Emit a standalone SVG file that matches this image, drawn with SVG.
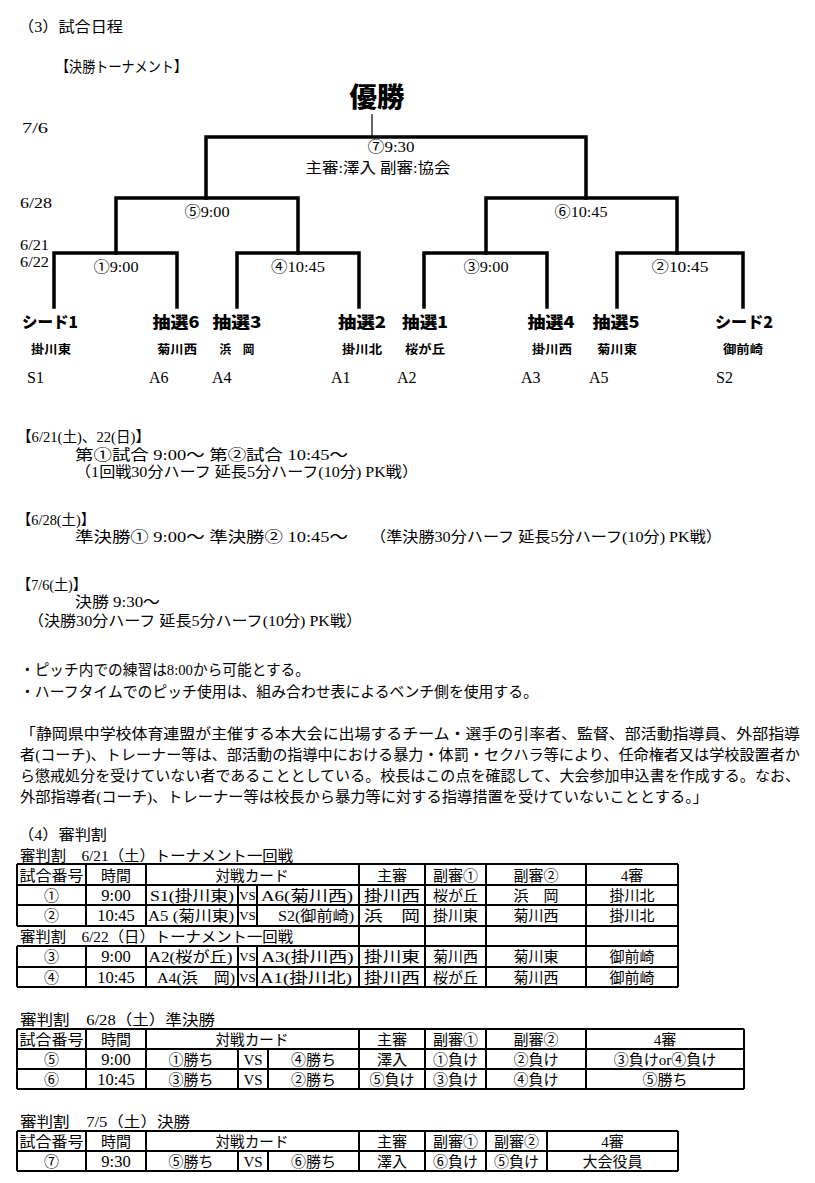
<svg xmlns="http://www.w3.org/2000/svg" width="815" height="1183" viewBox="0 0 815 1183">
<style>
text { fill:#000; }
.s { font-family:"Liberation Serif","Noto Sans CJK JP",serif; font-size:15px; }
.m { text-anchor:middle; }
.team { font-family:"Noto Sans CJK JP",sans-serif; font-weight:900; font-size:16px; text-anchor:middle; }
.school { font-family:"Noto Sans CJK JP",sans-serif; font-weight:700; font-size:12px; text-anchor:middle; }
.code { font-family:"Liberation Serif","Noto Sans CJK JP",serif; font-size:16px; }
.sch { font-family:"Liberation Serif","Noto Sans CJK JP",serif; font-size:15px; }
.t { font-family:"Liberation Serif","Noto Sans CJK JP",serif; font-size:15px; text-anchor:middle; }
.tm { font-family:"Liberation Serif",serif; font-size:16.5px; text-anchor:middle; }
.vs { font-family:"Liberation Serif",serif; font-size:13px; text-anchor:middle; }
.ln { fill:none; stroke:#000; stroke-width:3.5; stroke-linejoin:miter; stroke-linecap:square; }
.thin { fill:none; stroke:#000; stroke-width:1.2; }
.grid { fill:none; stroke:#000; stroke-width:2; }
</style>
<rect width="815" height="1183" fill="#fff"/>

<text class="s" x="18" y="32" textLength="105" lengthAdjust="spacingAndGlyphs">（3）試合日程</text>
<text class="s" x="56" y="72" textLength="131" lengthAdjust="spacingAndGlyphs">【決勝トーナメント】</text>

<g id="dates">
<text class="s" x="22" y="133" textLength="26" lengthAdjust="spacingAndGlyphs">7/6</text>
<text class="s" x="20" y="208" textLength="32" lengthAdjust="spacingAndGlyphs">6/28</text>
<text class="s" x="20" y="250" font-size="14" textLength="29" lengthAdjust="spacingAndGlyphs">6/21</text>
<text class="s" x="20" y="267" font-size="14" textLength="29" lengthAdjust="spacingAndGlyphs">6/22</text>
</g>

<g id="connectors">
<path class="thin" d="M372,114 V137"/>
<path class="ln" d="M206,198 V137 H586 V198"/>
<path class="ln" d="M116,253 V198 H298 V253"/>
<path class="ln" d="M486,253 V198 H677 V253"/>
<path class="ln" d="M54,307 V253 H177 V307"/>
<path class="ln" d="M237,307 V253 H359 V307"/>
<path class="ln" d="M424,307 V253 H547 V307"/>
<path class="ln" d="M617,307 V253 H743 V307"/>
</g>

<g id="champion">
<text x="377" y="107" text-anchor="middle" font-family="Noto Sans CJK JP, sans-serif" font-weight="900" font-size="27" textLength="55" lengthAdjust="spacingAndGlyphs">優勝</text>
</g>
<g id="match7">
<text class="s m" x="391" y="152" textLength="47" lengthAdjust="spacingAndGlyphs">⑦9:30</text>
<text class="s m" x="378" y="173" textLength="145" lengthAdjust="spacingAndGlyphs">主審:澤入  副審:協会</text>
</g>
<g id="match5"><text class="s m" x="207" y="217" textLength="45" lengthAdjust="spacingAndGlyphs">⑤9:00</text></g>
<g id="match6"><text class="s m" x="581" y="217" textLength="53" lengthAdjust="spacingAndGlyphs">⑥10:45</text></g>
<g id="match1"><text class="s m" x="116" y="272" textLength="45" lengthAdjust="spacingAndGlyphs">①9:00</text></g>
<g id="match4"><text class="s m" x="298" y="272" textLength="54" lengthAdjust="spacingAndGlyphs">④10:45</text></g>
<g id="match3"><text class="s m" x="486" y="272" textLength="45" lengthAdjust="spacingAndGlyphs">③9:00</text></g>
<g id="match2"><text class="s m" x="680" y="272" textLength="57" lengthAdjust="spacingAndGlyphs">②10:45</text></g>

<g id="team-s1">
<text class="team" x="50" y="328" textLength="56" lengthAdjust="spacingAndGlyphs">シード1</text>
<text class="school" x="51" y="354" textLength="40" lengthAdjust="spacingAndGlyphs">掛川東</text>
<text class="code" x="27" y="383">S1</text>
</g>
<g id="team-a6">
<text class="team" x="176" y="328" textLength="47" lengthAdjust="spacingAndGlyphs">抽選6</text>
<text class="school" x="177" y="354" textLength="40" lengthAdjust="spacingAndGlyphs">菊川西</text>
<text class="code" x="149" y="383">A6</text>
</g>
<g id="team-a4">
<text class="team" x="237" y="328" textLength="49" lengthAdjust="spacingAndGlyphs">抽選3</text>
<text class="school" x="237" y="354" textLength="35" lengthAdjust="spacingAndGlyphs">浜　岡</text>
<text class="code" x="212" y="383">A4</text>
</g>
<g id="team-a1">
<text class="team" x="362" y="328" textLength="48" lengthAdjust="spacingAndGlyphs">抽選2</text>
<text class="school" x="362" y="354" textLength="40" lengthAdjust="spacingAndGlyphs">掛川北</text>
<text class="code" x="331" y="383">A1</text>
</g>
<g id="team-a2">
<text class="team" x="425" y="328" textLength="46" lengthAdjust="spacingAndGlyphs">抽選1</text>
<text class="school" x="425" y="354" textLength="40" lengthAdjust="spacingAndGlyphs">桜が丘</text>
<text class="code" x="397" y="383">A2</text>
</g>
<g id="team-a3">
<text class="team" x="551" y="328" textLength="47" lengthAdjust="spacingAndGlyphs">抽選4</text>
<text class="school" x="552" y="354" textLength="40" lengthAdjust="spacingAndGlyphs">掛川西</text>
<text class="code" x="521" y="383">A3</text>
</g>
<g id="team-a5">
<text class="team" x="616" y="328" textLength="47" lengthAdjust="spacingAndGlyphs">抽選5</text>
<text class="school" x="617" y="354" textLength="40" lengthAdjust="spacingAndGlyphs">菊川東</text>
<text class="code" x="589" y="383">A5</text>
</g>
<g id="team-s2">
<text class="team" x="744" y="328" textLength="58" lengthAdjust="spacingAndGlyphs">シード2</text>
<text class="school" x="743" y="354" textLength="40" lengthAdjust="spacingAndGlyphs">御前崎</text>
<text class="code" x="716" y="383">S2</text>
</g>

<g id="schedule">
<text class="sch" x="17" y="442" textLength="133" lengthAdjust="spacingAndGlyphs">【6/21(土)、22(日)】</text>
<text class="sch" x="75" y="460" textLength="273" lengthAdjust="spacingAndGlyphs">第①試合  9:00～  第②試合  10:45～</text>
<text class="sch" x="75" y="477" textLength="343" lengthAdjust="spacingAndGlyphs">（1回戦30分ハーフ  延長5分ハーフ(10分)  PK戦）</text>
<text class="sch" x="17" y="525" textLength="78" lengthAdjust="spacingAndGlyphs">【6/28(土)】</text>
<text class="sch" x="75" y="542" textLength="273" lengthAdjust="spacingAndGlyphs">準決勝①  9:00～  準決勝②  10:45～</text>
<text class="sch" x="370" y="542" textLength="352" lengthAdjust="spacingAndGlyphs">（準決勝30分ハーフ  延長5分ハーフ(10分)  PK戦）</text>
<text class="sch" x="17" y="590" textLength="70" lengthAdjust="spacingAndGlyphs">【7/6(土)】</text>
<text class="sch" x="75" y="607" textLength="85" lengthAdjust="spacingAndGlyphs">決勝  9:30～</text>
<text class="sch" x="28" y="626" textLength="334" lengthAdjust="spacingAndGlyphs">（決勝30分ハーフ  延長5分ハーフ(10分)  PK戦）</text>
</g>

<g id="notes">
<text class="sch" x="20" y="675" textLength="290" lengthAdjust="spacingAndGlyphs">・ピッチ内での練習は8:00から可能とする。</text>
<text class="sch" x="20" y="697" textLength="518" lengthAdjust="spacingAndGlyphs">・ハーフタイムでのピッチ使用は、組み合わせ表によるベンチ側を使用する。</text>
<text class="sch" x="20" y="739" textLength="780" lengthAdjust="spacingAndGlyphs">「静岡県中学校体育連盟が主催する本大会に出場するチーム・選手の引率者、監督、部活動指導員、外部指導</text>
<text class="sch" x="20" y="760" textLength="780" lengthAdjust="spacingAndGlyphs">者(コーチ)、トレーナー等は、部活動の指導中における暴力・体罰・セクハラ等により、任命権者又は学校設置者か</text>
<text class="sch" x="20" y="781" textLength="780" lengthAdjust="spacingAndGlyphs">ら懲戒処分を受けていない者であることとしている。校長はこの点を確認して、大会参加申込書を作成する。なお、</text>
<text class="sch" x="20" y="802" textLength="688" lengthAdjust="spacingAndGlyphs">外部指導者(コーチ)、トレーナー等は校長から暴力等に対する指導措置を受けていないこととする。」</text>
</g>

<text class="s" x="18" y="840" textLength="89" lengthAdjust="spacingAndGlyphs">（4）審判割</text>

<g id="table1">
<text class="s" x="20" y="861" textLength="273" lengthAdjust="spacingAndGlyphs">審判割　6/21（土）トーナメント一回戦</text>
<path class="grid" d="M17,864 H678 M17,885 H678 M17,905 H678 M17,926 H678 M17,946 H678 M17,967 H678 M17,987 H678
M17,864 V926 M86,864 V926 M146,864 V926 M17,946 V987 M86,946 V987 M146,946 V987
M238,885 V926 M257,885 V926 M238,946 V987 M257,946 V987
M359,864 V987 M425,864 V987 M486,864 V987 M586,864 V987 M678,864 V987"/>
<text class="t" x="51.5" y="881" textLength="64" lengthAdjust="spacingAndGlyphs">試合番号</text>
<text class="t" x="116" y="881">時間</text>
<text class="t" x="252" y="881" textLength="73" lengthAdjust="spacingAndGlyphs">対戦カード</text>
<text class="t" x="392" y="881">主審</text>
<text class="t" x="455.5" y="881">副審①</text>
<text class="t" x="536" y="881">副審②</text>
<text class="t" x="632" y="881">4審</text>

<text class="t" x="51.5" y="901">①</text>
<text class="tm" x="116" y="901">9:00</text>
<text class="t" x="192" y="901" textLength="84" lengthAdjust="spacingAndGlyphs">S1(掛川東)</text>
<text class="vs" x="247.5" y="900">VS</text>
<text class="t" x="307" y="901" textLength="92" lengthAdjust="spacingAndGlyphs">A6(菊川西)</text>
<text class="t" x="392" y="901" textLength="56" lengthAdjust="spacingAndGlyphs">掛川西</text>
<text class="t" x="455.5" y="901">桜が丘</text>
<text class="t" x="536" y="901">浜　岡</text>
<text class="t" x="632" y="901">掛川北</text>

<text class="t" x="51.5" y="921">②</text>
<text class="tm" x="116" y="921">10:45</text>
<text class="t" x="191" y="921" textLength="86" lengthAdjust="spacingAndGlyphs">A5 (菊川東)</text>
<text class="vs" x="247.5" y="920">VS</text>
<text class="t" x="316" y="921" textLength="76" lengthAdjust="spacingAndGlyphs">S2(御前崎)</text>
<text class="t" x="392" y="921" textLength="56" lengthAdjust="spacingAndGlyphs">浜　岡</text>
<text class="t" x="455.5" y="921">掛川東</text>
<text class="t" x="536" y="921">菊川西</text>
<text class="t" x="632" y="921">掛川北</text>

<text class="s" x="20" y="942" textLength="273" lengthAdjust="spacingAndGlyphs">審判割　6/22（日）トーナメント一回戦</text>

<text class="t" x="51.5" y="962">③</text>
<text class="tm" x="116" y="962">9:00</text>
<text class="t" x="190.5" y="962" textLength="84" lengthAdjust="spacingAndGlyphs">A2(桜が丘)</text>
<text class="vs" x="247.5" y="961">VS</text>
<text class="t" x="307.5" y="962" textLength="92" lengthAdjust="spacingAndGlyphs">A3(掛川西)</text>
<text class="t" x="392" y="962" textLength="56" lengthAdjust="spacingAndGlyphs">掛川東</text>
<text class="t" x="455.5" y="962">菊川西</text>
<text class="t" x="536" y="962">菊川東</text>
<text class="t" x="632" y="962">御前崎</text>

<text class="t" x="51.5" y="983">④</text>
<text class="tm" x="116" y="983">10:45</text>
<text class="t" x="196" y="983" textLength="78" lengthAdjust="spacingAndGlyphs">A4(浜　岡)</text>
<text class="vs" x="247.5" y="982">VS</text>
<text class="t" x="306" y="983" textLength="92" lengthAdjust="spacingAndGlyphs">A1(掛川北)</text>
<text class="t" x="392" y="983" textLength="56" lengthAdjust="spacingAndGlyphs">掛川西</text>
<text class="t" x="455.5" y="983">桜が丘</text>
<text class="t" x="536" y="983">菊川西</text>
<text class="t" x="632" y="983">御前崎</text>
</g>

<g id="table2">
<text class="s" x="20" y="1025" textLength="195" lengthAdjust="spacingAndGlyphs">審判割　6/28（土）準決勝</text>
<path class="grid" d="M17,1029 H744 M17,1049 H744 M17,1069 H744 M17,1089 H744
M17,1029 V1089 M86,1029 V1089 M146,1029 V1089 M238,1049 V1089 M268,1049 V1089
M359,1029 V1089 M425,1029 V1089 M486,1029 V1089 M586,1029 V1089 M744,1029 V1089"/>
<text class="t" x="51.5" y="1045" textLength="64" lengthAdjust="spacingAndGlyphs">試合番号</text>
<text class="t" x="116" y="1045">時間</text>
<text class="t" x="252" y="1045" textLength="73" lengthAdjust="spacingAndGlyphs">対戦カード</text>
<text class="t" x="392" y="1045">主審</text>
<text class="t" x="455.5" y="1045">副審①</text>
<text class="t" x="536" y="1045">副審②</text>
<text class="t" x="665" y="1045">4審</text>

<text class="t" x="51.5" y="1065">⑤</text>
<text class="tm" x="116" y="1065">9:00</text>
<text class="t" x="191" y="1065">①勝ち</text>
<text class="t" x="253" y="1065">VS</text>
<text class="t" x="313.5" y="1065">④勝ち</text>
<text class="t" x="392" y="1065">澤入</text>
<text class="t" x="455.5" y="1065">①負け</text>
<text class="t" x="536" y="1065">②負け</text>
<text class="t" x="665" y="1065">③負けor④負け</text>

<text class="t" x="51.5" y="1085">⑥</text>
<text class="tm" x="116" y="1085">10:45</text>
<text class="t" x="191" y="1085">③勝ち</text>
<text class="t" x="253" y="1085">VS</text>
<text class="t" x="313.5" y="1085">②勝ち</text>
<text class="t" x="392" y="1085">⑤負け</text>
<text class="t" x="455.5" y="1085">③負け</text>
<text class="t" x="536" y="1085">④負け</text>
<text class="t" x="665" y="1085">⑤勝ち</text>
</g>

<g id="table3">
<text class="s" x="20" y="1127" textLength="170" lengthAdjust="spacingAndGlyphs">審判割　7/5（土）決勝</text>
<path class="grid" d="M17,1131 H678 M17,1151 H678 M17,1171 H678
M17,1131 V1171 M86,1131 V1171 M146,1131 V1171 M238,1151 V1171 M268,1151 V1171
M359,1131 V1171 M425,1131 V1171 M486,1131 V1171 M547,1131 V1171 M678,1131 V1171"/>
<text class="t" x="51.5" y="1147" textLength="64" lengthAdjust="spacingAndGlyphs">試合番号</text>
<text class="t" x="116" y="1147">時間</text>
<text class="t" x="252" y="1147" textLength="73" lengthAdjust="spacingAndGlyphs">対戦カード</text>
<text class="t" x="392" y="1147">主審</text>
<text class="t" x="455.5" y="1147">副審①</text>
<text class="t" x="516.5" y="1147">副審②</text>
<text class="t" x="612.5" y="1147">4審</text>

<text class="t" x="51.5" y="1167">⑦</text>
<text class="tm" x="116" y="1167">9:30</text>
<text class="t" x="191" y="1167">⑤勝ち</text>
<text class="t" x="253" y="1167">VS</text>
<text class="t" x="313.5" y="1167">⑥勝ち</text>
<text class="t" x="392" y="1167">澤入</text>
<text class="t" x="455.5" y="1167">⑥負け</text>
<text class="t" x="516.5" y="1167">⑤負け</text>
<text class="t" x="612.5" y="1167">大会役員</text>
</g>
</svg>
